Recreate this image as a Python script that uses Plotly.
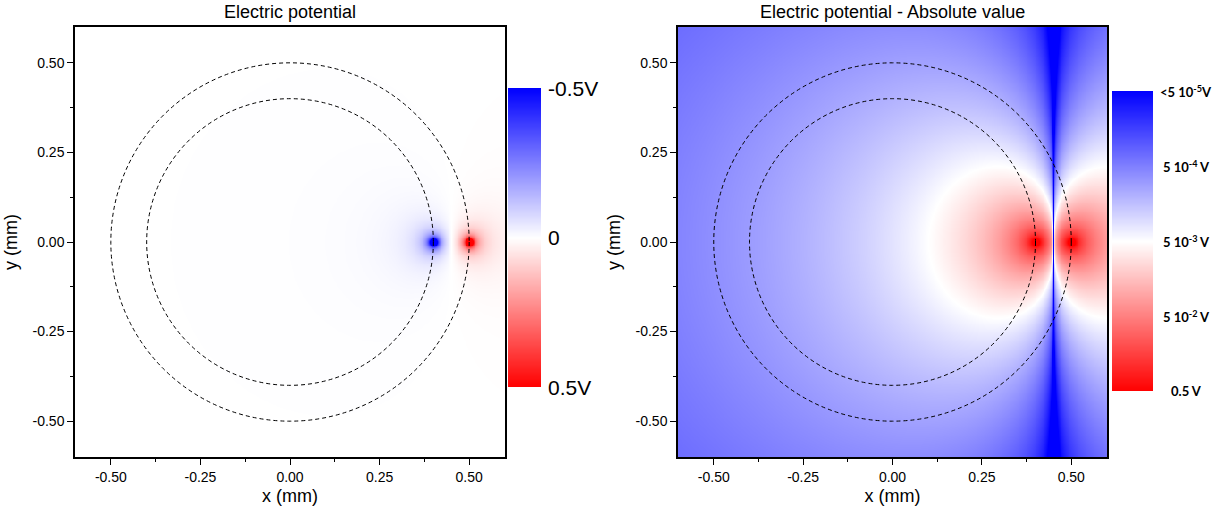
import numpy as np
import plotly.graph_objects as go

# Two point charges (positions in mm, strength k*q in V*mm)
charge_x = [0.40, 0.50]
charge_y = [0.00, 0.00]
charge_kq = [-0.006, 0.006]

# Dashed reference circles centred on the origin (radius in mm)
circle_radii = [0.40, 0.50]

# Axis ticks (mm)
axis_ticks = [-0.50, -0.25, 0.00, 0.25, 0.50]
axis_ticklabels = ["-0.50", "-0.25", "0.00", "0.25", "0.50"]
axis_minor = [-0.375, -0.125, 0.125, 0.375]

# Colour-bar ticks
lin_ticks = [-0.5, 0.0, 0.5]
lin_labels = ["-0.5V", "0", "0.5V"]
log_ticks = [5e-5, 5e-4, 5e-3, 5e-2, 0.5]
log_labels = ["<5 10<sup>-5</sup>V", "5 10<sup>-4</sup> V", "5 10<sup>-3</sup> V",
              "5 10<sup>-2</sup> V", "0.5 V"]

V_MIN, V_MAX = -0.5, 0.5
ABS_MIN, ABS_MAX = 5e-5, 0.5
EXTENT = 0.6

W, H = 1228, 514


def px(x):
    return x / W


def py(y):
    return 1 - y / H


# Potential on a regular grid
n = 481
gx = np.linspace(-EXTENT, EXTENT, n)
gy = np.linspace(-EXTENT, EXTENT, n)
X, Y = np.meshgrid(gx, gy)
V = np.zeros_like(X)
for cx, cy, kq in zip(charge_x, charge_y, charge_kq):
    V += kq / np.sqrt((X - cx) ** 2 + (Y - cy) ** 2 + 1e-10)

z_lin = np.clip(V, V_MIN, V_MAX).astype(np.float32)
z_log = np.log10(np.clip(np.abs(V), ABS_MIN, ABS_MAX)).astype(np.float32)

bwr = [[0.0, "rgb(0,0,255)"], [0.5, "rgb(255,255,255)"], [1.0, "rgb(255,0,0)"]]
lmin, lmax = np.log10(ABS_MIN), np.log10(ABS_MAX)

fig = go.Figure()
fig.add_trace(go.Heatmap(x=gx, y=gy, z=z_lin, colorscale=bwr, zmin=V_MIN, zmax=V_MAX,
                         showscale=False, zsmooth="best", hoverinfo="skip",
                         xaxis="x", yaxis="y"))
fig.add_trace(go.Heatmap(x=gx, y=gy, z=z_log, colorscale=bwr, zmin=lmin, zmax=lmax,
                         showscale=False, zsmooth="best", hoverinfo="skip",
                         xaxis="x2", yaxis="y2"))

# Colour bars drawn as narrow heatmaps so the scale can run top-down
cb_lin = np.linspace(V_MIN, V_MAX, 256)
fig.add_trace(go.Heatmap(x=[0, 1], y=cb_lin, z=np.column_stack([cb_lin, cb_lin]),
                         colorscale=bwr, zmin=V_MIN, zmax=V_MAX, showscale=False,
                         zsmooth="best", hoverinfo="skip", xaxis="x3", yaxis="y3"))
cb_log = np.linspace(lmin, lmax, 256)
fig.add_trace(go.Heatmap(x=[0, 1], y=cb_log, z=np.column_stack([cb_log, cb_log]),
                         colorscale=bwr, zmin=lmin, zmax=lmax, showscale=False,
                         zsmooth="best", hoverinfo="skip", xaxis="x4", yaxis="y4"))

tick_font = dict(family="Liberation Sans, Arial, sans-serif", size=14, color="black")
title_font = dict(family="Liberation Sans, Arial, sans-serif", size=18, color="black")


def main_x(domain):
    return dict(domain=domain, range=[-EXTENT, EXTENT], showline=True, mirror=True,
                linecolor="black", linewidth=1.5, ticks="outside", ticklen=6,
                tickwidth=1.2, tickcolor="black", tickvals=axis_ticks,
                ticktext=axis_ticklabels, tickfont=tick_font,
                minor=dict(tickvals=axis_minor, ticks="outside", ticklen=3,
                           tickwidth=1.2, tickcolor="black"),
                showgrid=False, zeroline=False,
                title=dict(text="x (mm)", font=title_font, standoff=6))


def main_y(anchor):
    d = main_x([py(457), py(27)])
    d.update(anchor=anchor, title=dict(text="y (mm)", font=title_font, standoff=10))
    return d


def bar_axis(domain, anchor, rng):
    return dict(domain=domain, anchor=anchor, range=rng, showline=False, ticks="",
                showticklabels=False, showgrid=False, zeroline=False, fixedrange=True)


x1 = main_x([px(75), px(505)])
x1["anchor"] = "y"
x2 = main_x([px(678), px(1107)])
x2["anchor"] = "y2"

fig.update_layout(
    width=W, height=H, margin=dict(l=0, r=0, t=0, b=0),
    paper_bgcolor="white", plot_bgcolor="white", showlegend=False,
    xaxis=x1, yaxis=main_y("x"),
    xaxis2=x2, yaxis2=main_y("x2"),
    xaxis3=bar_axis([px(508), px(541)], "y3", [0, 1]),
    yaxis3=bar_axis([py(387), py(88)], "x3", [V_MAX, V_MIN]),
    xaxis4=bar_axis([px(1112), px(1153)], "y4", [0, 1]),
    yaxis4=bar_axis([py(391), py(91)], "x4", [lmax, lmin]),
)

# Dashed circles on both panels
for xr, yr in (("x", "y"), ("x2", "y2")):
    for r in circle_radii:
        fig.add_shape(type="circle", xref=xr, yref=yr, x0=-r, y0=-r, x1=r, y1=r,
                      line=dict(color="black", width=1, dash="4px,3px"), layer="above")

annotations = [
    dict(text="Electric potential", x=px(290), y=py(12), xref="paper", yref="paper",
         showarrow=False, xanchor="center", yanchor="middle",
         font=dict(family="Liberation Sans, Arial, sans-serif", size=18, color="black")),
    dict(text="Electric potential - Absolute value", x=px(892), y=py(12), xref="paper",
         yref="paper", showarrow=False, xanchor="center", yanchor="middle",
         font=dict(family="Liberation Sans, Arial, sans-serif", size=18, color="black")),
]
for v, t in zip(lin_ticks, lin_labels):
    annotations.append(dict(text=t, x=px(546), y=v, xref="paper", yref="y3",
                            showarrow=False, xanchor="left", yanchor="middle",
                            font=dict(family="Liberation Sans, Arial, sans-serif",
                                      size=21, color="black")))
for v, t in zip(log_ticks, log_labels):
    annotations.append(dict(text=t, x=px(1186), y=np.log10(v), xref="paper", yref="y4",
                            showarrow=False, xanchor="center", yanchor="middle",
                            font=dict(family="Lato, Liberation Sans, sans-serif",
                                      size=13, color="black", weight="bold")))
fig.update_layout(annotations=annotations)

fig.write_html("out.html")
